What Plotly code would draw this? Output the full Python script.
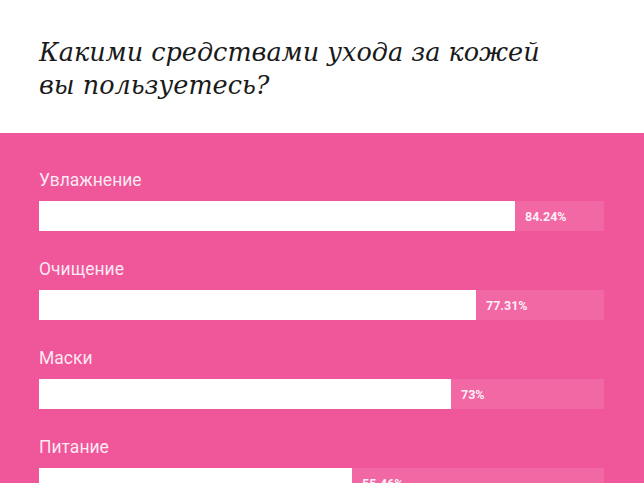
import plotly.graph_objects as go

categories = ["Увлажнение", "Очищение", "Маски", "Питание"]
values = [84.24, 77.31, 73, 55.46]
value_labels = ["84.24%", "77.31%", "73%", "55.46%"]
full_scale = [100, 100, 100, 100]

title = "Какими средствами ухода за кожей<br>вы пользуетесь?"

pink = "#f0579b"
rows = list(range(len(categories)))

fig = go.Figure()

# background track (100%)
fig.add_trace(go.Bar(
    x=full_scale,
    y=rows,
    orientation="h",
    width=0.34,
    marker=dict(color="rgba(255,255,255,0.1)", line=dict(width=0)),
    hoverinfo="skip",
    showlegend=False,
))

# actual values
fig.add_trace(go.Bar(
    x=values,
    y=rows,
    orientation="h",
    width=0.34,
    marker=dict(color="white", line=dict(width=0)),
    showlegend=False,
))

# category names above the bars
for i, name in zip(rows, categories):
    fig.add_annotation(
        x=0, y=i - 0.41,
        xref="x", yref="y",
        text=name,
        showarrow=False,
        xanchor="left",
        yanchor="middle",
        xshift=-2,
        font=dict(family="Roboto", size=17.5, color="rgba(255,255,255,0.88)"),
    )

# value labels right after the white bar
for i, v, lab in zip(rows, values, value_labels):
    fig.add_annotation(
        x=v, y=i,
        xref="x", yref="y",
        xshift=8,
        text="<b>" + lab + "</b>",
        showarrow=False,
        xanchor="left",
        yanchor="middle",
        font=dict(family="Roboto", size=12.5, color="rgba(255,255,255,0.92)"),
    )

fig.add_annotation(
    x=0, y=1 + (133 - 35) / 350,
    xref="x", yref="paper",
    xshift=-3,
    text=title,
    showarrow=False,
    xanchor="left",
    yanchor="top",
    align="left",
    font=dict(family="DejaVu Serif", size=25.5, style="italic", color="#1a1a1a"),
)

fig.update_layout(
    width=644,
    height=483,
    margin=dict(l=0, r=0, t=133, b=0),
    paper_bgcolor="white",
    plot_bgcolor=pink,
    barmode="overlay",
    bargap=0,
)
fig.update_xaxes(
    range=[-39 / 5.65, 605 / 5.65],
    visible=False,
    fixedrange=True,
)
fig.update_yaxes(
    range=[3.0, -0.933],
    visible=False,
    fixedrange=True,
)

fig.write_html(
    "out.html",
    config={"displayModeBar": False},
    post_script="document.body.style.margin='0';",
)
